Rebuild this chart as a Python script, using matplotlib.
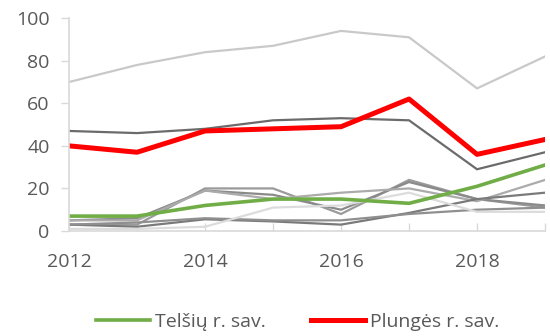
import matplotlib.pyplot as plt

plt.rcParams['font.family'] = ['Open Sans', 'DejaVu Sans']

years = [2012, 2013, 2014, 2015, 2016, 2017, 2018, 2019]

# other municipalities, drawn in gray
others = [
    [70, 78, 84, 87, 94, 91, 67, 82],
    [47, 46, 48, 52, 53, 52, 29, 37],
    [3, 3, 20, 20, 8, 24, 15, 11],
    [5, 6, 19, 17, 10, 23, 15, 12],
    [5, 5, 19, 15, 18, 20, 14, 24],
    [3, 2, 5.5, 4.5, 3, 8.5, 15, 18],
    [3, 4, 6, 5, 5, 8, 10, 11],
    [1, 1, 2, 11, 12, 18, 9, 9],
]
others_colors = ['#c9c9c9', '#6b6b6b', '#9a9a9a', '#8a8a8a',
                 '#ababab', '#7a7a7a', '#8f8f8f', '#dcdcdc']

telsiai = [7, 7, 12, 15, 15, 13, 21, 31]
plunge = [40, 37, 47, 48, 49, 62, 36, 43]

fig = plt.figure(figsize=(5.5, 3.36), dpi=100)
ax = fig.add_axes([0.1255, 0.3125, 0.8655, 0.6335])

for vals, c in zip(others, others_colors):
    ax.plot(years, vals, color=c, lw=1.6, solid_joinstyle='miter')

ax.plot(years, telsiai, color='#70ad47', lw=2.6, label='Telšių r. sav.')
ax.plot(years, plunge, color='#ff0000', lw=3.6, label='Plungės r. sav.')

ax.set_xlim(2012, 2019)
ax.set_ylim(0, 100)
ax.set_yticks([0, 20, 40, 60, 80, 100])
ax.set_xticks([2012, 2014, 2016, 2018])
ax.set_xticks(years, minor=True)

for s in ['top', 'right']:
    ax.spines[s].set_visible(False)
for s in ['left', 'bottom']:
    ax.spines[s].set_color('#d9d9d9')
    ax.spines[s].set_linewidth(1.2)

ax.tick_params(axis='y', direction='out', length=6, width=1, color='#d9d9d9',
               labelsize=14, labelcolor='#595959', pad=8)
ax.tick_params(axis='x', which='both', direction='in', length=6, width=1,
               color='#d9d9d9', labelsize=14, labelcolor='#595959', pad=16)

fig.legend(loc='lower center', bbox_to_anchor=(0.541, -0.037), ncol=2,
           frameon=False, fontsize=14, labelcolor='#595959',
           handlelength=2.8, handletextpad=0.25, columnspacing=2.3)

fig.savefig('out.png', dpi=100)
